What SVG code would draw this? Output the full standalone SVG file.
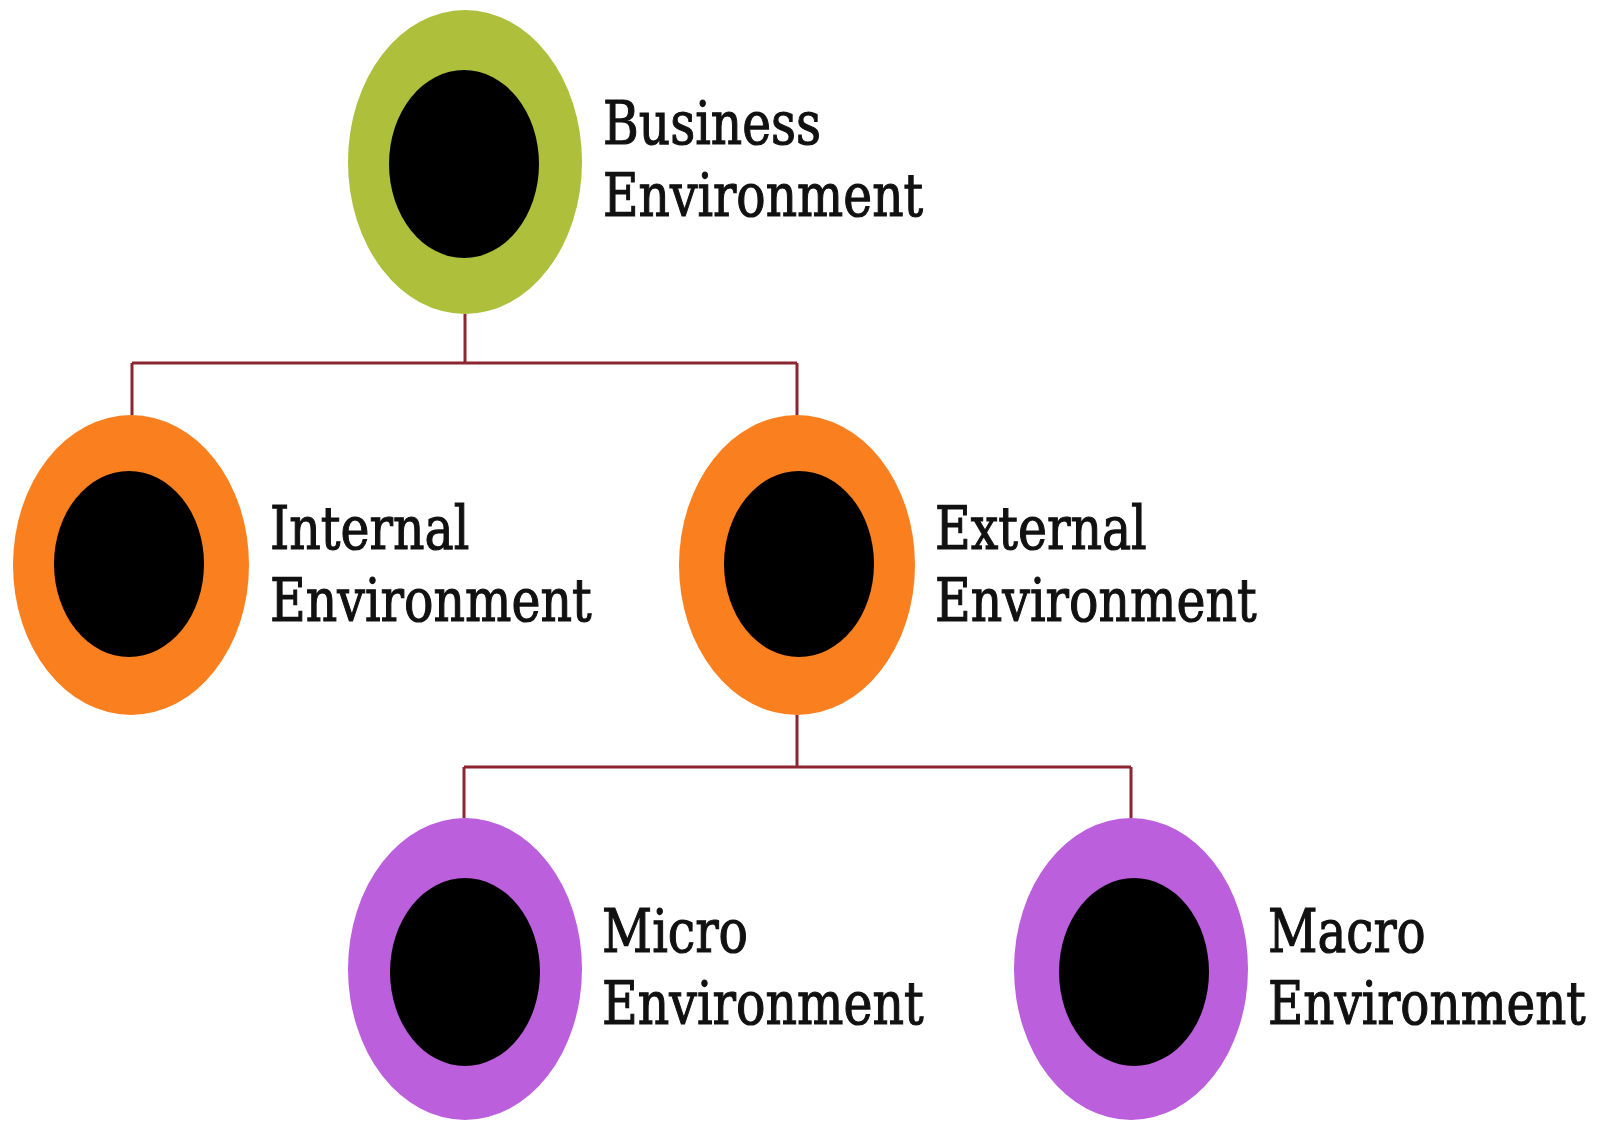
<svg xmlns="http://www.w3.org/2000/svg" width="1614" height="1124" viewBox="0 0 1614 1124">
<style>
.lbl{font-family:"DejaVu Serif","Liberation Serif",serif;font-size:59px;fill:#111;stroke:#111;stroke-width:1.2px;}
.conn{fill:none;stroke:#8b2630;stroke-width:3;}
.in{fill:#000;}
.g{fill:#adbf3b;}
.o{fill:#fa7f1e;}
.p{fill:#bb5fdc;}
</style>
<rect width="1614" height="1124" fill="#fff"/>
<g id="connectors">
<path class="conn" d="M465 314 V363 M132 363 H797 M132 363 V415 M797 363 V415"/>
<path class="conn" d="M797 715 V767 M464 767 H1131 M464 767 V818 M1131 767 V818"/>
</g>
<g id="business">
<ellipse class="g" cx="465" cy="162" rx="117" ry="152"/>
<ellipse class="in" cx="464" cy="164" rx="75" ry="94"/>
<g transform="matrix(0.826 0 0 1 603 0)">
<text class="lbl" x="0" y="144">Business</text>
<text class="lbl" x="0" y="216">Environment</text>
</g>
</g>
<g id="internal">
<ellipse class="o" cx="131" cy="565" rx="118" ry="150"/>
<ellipse class="in" cx="129" cy="564" rx="75" ry="93"/>
<g transform="matrix(0.83 0 0 1 270 0)">
<text class="lbl" x="0" y="549">Internal</text>
<text class="lbl" x="0" y="621">Environment</text>
</g>
</g>
<g id="external">
<ellipse class="o" cx="797" cy="565" rx="118" ry="150"/>
<ellipse class="in" cx="799" cy="564" rx="75" ry="93"/>
<g transform="matrix(0.83 0 0 1 935 0)">
<text class="lbl" x="0" y="549">External</text>
<text class="lbl" x="0" y="621">Environment</text>
</g>
</g>
<g id="micro">
<ellipse class="p" cx="465" cy="969" rx="117" ry="151"/>
<ellipse class="in" cx="465" cy="972" rx="75" ry="94"/>
<g transform="matrix(0.83 0 0 1 602 0)">
<text class="lbl" x="0" y="952">Micro</text>
<text class="lbl" x="0" y="1024">Environment</text>
</g>
</g>
<g id="macro">
<ellipse class="p" cx="1131" cy="969" rx="117" ry="151"/>
<ellipse class="in" cx="1134" cy="972" rx="75" ry="94"/>
<g transform="matrix(0.82 0 0 1 1268 0)">
<text class="lbl" x="0" y="952">Macro</text>
<text class="lbl" x="0" y="1024">Environment</text>
</g>
</g>
</svg>
